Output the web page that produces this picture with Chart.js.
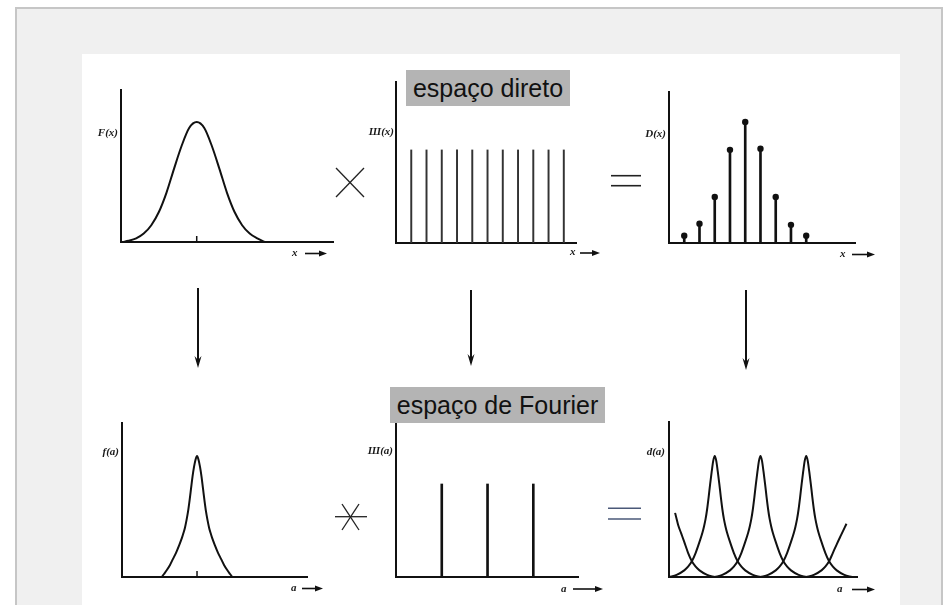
<!DOCTYPE html>
<html><head><meta charset="utf-8">
<script src="https://cdn.jsdelivr.net/npm/chart.js@4"></script>
<style>
html,body{margin:0;padding:0;background:#fff;width:944px;height:605px;overflow:hidden;position:relative;font-family:"Liberation Sans",Arial,sans-serif}
#panel{position:absolute;left:15px;top:7px;width:924px;height:620px;background:#f0f0f0;border-left:2px solid #c6c6c6;border-top:2px solid #c6c6c6;border-right:2px solid #c6c6c6}
#sheet{position:absolute;left:82px;top:54px;width:818px;height:560px;background:#fff}
canvas{position:absolute}
.lbl{position:absolute;font:bold italic 11px "Liberation Serif","DejaVu Serif",serif;color:#1a1a1a;white-space:nowrap;line-height:12px}
.tag{position:absolute;background:#b4b4b4;color:#111;font:25px "Liberation Sans",Arial,sans-serif;text-align:center;line-height:36px;height:36px;white-space:nowrap}
#ov{position:absolute;left:0;top:0}
</style></head>
<body>
<div id="panel"></div>
<div id="sheet"></div>
<script>
// ---------- data ----------
// F(x): gaussian-like curve in direct space
const fxX = [0.1, 0.5, 1, 1.5, 2, 2.5, 3, 3.5, 4, 4.5, 5, 5.5, 6, 6.5, 7, 7.5, 8, 8.5, 9, 9.5];
const fxY = [0, 0.01, 0.03, 0.07, 0.14, 0.25, 0.41, 0.61, 0.80, 0.95, 1.00, 0.95, 0.80, 0.61, 0.41, 0.25, 0.14, 0.07, 0.03, 0];
const fxTick = 5;
// Ш(x): lattice of equal spikes
const combX = [1, 2, 3, 4, 5, 6, 7, 8, 9, 10, 11];
const combH = [1, 1, 1, 1, 1, 1, 1, 1, 1, 1, 1];
// D(x): sampled function
const dxX = [1, 2, 3, 4, 5, 6, 7, 8, 9];
const dxH = [0.06, 0.16, 0.38, 0.77, 1.00, 0.78, 0.38, 0.15, 0.06];
// f(a): Fourier transform of F (sharp peak, flared tails)
const faX = [2.65, 2.8, 3.0, 3.2, 3.4, 3.6, 3.8, 4.0, 4.1, 4.2, 4.3, 4.4, 4.5, 4.6, 4.7, 4.8, 4.9, 5.0,
             5.1, 5.2, 5.3, 5.4, 5.5, 5.6, 5.7, 5.8, 5.9, 6.0, 6.2, 6.4, 6.6, 6.8, 7.0, 7.2, 7.35];
const faY = [0, 0.025, 0.06, 0.10, 0.15, 0.20, 0.26, 0.325, 0.365, 0.41, 0.47, 0.54, 0.63, 0.73, 0.83, 0.91, 0.97, 1.0,
             0.97, 0.91, 0.83, 0.73, 0.63, 0.54, 0.47, 0.41, 0.365, 0.325, 0.26, 0.20, 0.15, 0.10, 0.06, 0.025, 0];
const faTick = 5;
// Ш(a): reciprocal lattice
const rcombX = [3, 6, 9];
const rcombH = [1, 1, 1];
// d(a): one lobe profile (offset from lobe centre, height) and lobe centres
const daOffsets = [-3, -2.5, -2, -1.75, -1.5, -1.25, -1, -0.8, -0.7, -0.6, -0.5, -0.4, -0.3, -0.2, -0.1, 0,
                   0.1, 0.2, 0.3, 0.4, 0.5, 0.6, 0.7, 0.8, 1, 1.25, 1.5, 1.75, 2, 2.5, 3];
const daHeights = [0, 0.018, 0.055, 0.085, 0.13, 0.2, 0.29, 0.37, 0.42, 0.48, 0.56, 0.66, 0.77, 0.87, 0.96, 1,
                   0.96, 0.87, 0.77, 0.66, 0.56, 0.48, 0.42, 0.37, 0.29, 0.2, 0.13, 0.085, 0.055, 0.018, 0];
const daCenters = [3, 6, 9];
// partial lobes at the panel edges
const daLeftX = [0.4, 0.5, 0.6, 0.8, 1.0, 1.25, 1.5, 1.75, 2.0, 2.5, 3.0];
const daLeftY = [0.53, 0.48, 0.43, 0.36, 0.29, 0.20, 0.13, 0.085, 0.055, 0.018, 0];
const daRightX = [9, 9.5, 10, 10.25, 10.5, 10.75, 11.0, 11.3, 11.64];
const daRightY = [0, 0.018, 0.055, 0.085, 0.13, 0.2, 0.27, 0.35, 0.44];

// ---------- helpers ----------
const INK = '#111';
const pts = (xs, ys) => xs.map((x, i) => ({x, y: ys[i]}));
function curve(data, w) {
  return {type: 'line', data, showLine: true, pointRadius: 0, borderColor: INK, borderWidth: w || 2,
          fill: false, cubicInterpolationMode: 'monotone'};
}
function tickMark(x) {
  return {type: 'line', data: [{x, y: 0}, {x, y: 0.05}], showLine: true, pointRadius: 0,
          borderColor: INK, borderWidth: 1.5, fill: false};
}
function stems(xs, hs, w, col) {
  return {type: 'bar', data: pts(xs, hs), barThickness: w, backgroundColor: col || INK, borderWidth: 0, grouped: false};
}
function makeChart(area, xMax, yMax, datasets) {
  const P = 10;
  const c = document.createElement('canvas');
  const w = area.r - area.l + 2 * P, h = area.b - area.t + 2 * P;
  c.width = w; c.height = h;
  c.style.width = w + 'px'; c.style.height = h + 'px';
  c.style.left = (area.l - P) + 'px'; c.style.top = (area.t - P) + 'px';
  document.body.appendChild(c);
  const axis = (max) => ({type: 'linear', min: 0, max, offset: false,
    grid: {display: false, drawTicks: false}, ticks: {display: false},
    border: {display: true, width: 2, color: INK}});
  new Chart(c, {
    type: 'scatter',
    data: {datasets},
    options: {
      responsive: false, animation: false, devicePixelRatio: 1, events: [],
      layout: {padding: P, autoPadding: false},
      plugins: {legend: {display: false}, tooltip: {enabled: false}},
      scales: {x: axis(xMax), y: axis(yMax)}
    }
  });
}

// ---------- direct space ----------
makeChart({l: 121, t: 90, r: 333, b: 242}, 14, 1.267, [curve(pts(fxX, fxY)), tickMark(fxTick)]);
makeChart({l: 396, t: 82, r: 576, b: 243}, 11.8, 1.73, [stems(combX, combH, 1.3, '#333')]);
makeChart({l: 669, t: 92, r: 855, b: 243}, 12.2, 1.248, [
  stems(dxX, dxH, 2, INK),
  {type: 'scatter', data: pts(dxX, dxH), pointRadius: 3.2, backgroundColor: INK, borderWidth: 0}
]);

// ---------- Fourier space ----------
makeChart({l: 122, t: 423, r: 307, b: 577}, 12.33, 1.273, [curve(pts(faX, faY)), tickMark(faTick)]);
makeChart({l: 396, t: 420, r: 578, b: 577}, 11.93, 1.688, [stems(rcombX, rcombH, 2, INK)]);
const lobes = [curve(pts(daLeftX, daLeftY)), curve(pts(daRightX, daRightY))];
daCenters.forEach(cx => lobes.push(curve(daOffsets.map((o, i) => ({x: cx + o, y: daHeights[i]})))));
makeChart({l: 669, t: 422, r: 857, b: 577}, 12.33, 1.281, lobes);

// ---------- labels ----------
function label(txt, right, cy) {
  const d = document.createElement('div');
  d.className = 'lbl'; d.textContent = txt;
  d.style.right = (944 - right) + 'px'; d.style.top = (cy - 6) + 'px';
  document.body.appendChild(d);
}
function letter(txt, left, cy) {
  const d = document.createElement('div');
  d.className = 'lbl'; d.textContent = txt;
  d.style.left = left + 'px'; d.style.top = (cy - 7) + 'px';
  document.body.appendChild(d);
}
label('F(x)', 118, 132); label('Ш(x)', 394, 131); label('D(x)', 666, 133);
label('f(a)', 119, 451); label('Ш(a)', 393, 450); label('d(a)', 665, 451);
letter('x', 292, 253); letter('x', 570, 252); letter('x', 840, 254);
letter('a', 291, 588); letter('a', 561, 589); letter('a', 837, 589);

function tag(txt, l, t, w) {
  const d = document.createElement('div');
  d.className = 'tag'; d.textContent = txt;
  d.style.left = l + 'px'; d.style.top = t + 'px'; d.style.width = w + 'px';
  document.body.appendChild(d);
}

// ---------- arrows and operators (SVG overlay) ----------
const NS = 'http://www.w3.org/2000/svg';
const svg = document.createElementNS(NS, 'svg');
svg.setAttribute('id', 'ov'); svg.setAttribute('width', 944); svg.setAttribute('height', 605);
document.body.appendChild(svg);
function ln(x1, y1, x2, y2, w, col) {
  const e = document.createElementNS(NS, 'line');
  e.setAttribute('x1', x1); e.setAttribute('y1', y1); e.setAttribute('x2', x2); e.setAttribute('y2', y2);
  e.setAttribute('stroke', col || '#222'); e.setAttribute('stroke-width', w || 1.5);
  svg.appendChild(e);
}
function poly(p, col) {
  const e = document.createElementNS(NS, 'polygon');
  e.setAttribute('points', p); e.setAttribute('fill', col || '#111');
  svg.appendChild(e);
}
function hArrow(x1, x2, y) { ln(x1, y, x2 - 5, y, 1.6, '#111'); poly(`${x2},${y} ${x2 - 8},${y - 3} ${x2 - 8},${y + 3}`); }
function vArrow(x, y1, y2) { ln(x, y1, x, y2 - 6, 2, '#111'); poly(`${x},${y2} ${x - 3.5},${y2 - 12} ${x},${y2 - 8} ${x + 3.5},${y2 - 12}`); }
hArrow(305, 327, 253.5); hArrow(580, 600, 253); hArrow(852, 875, 254.5);
hArrow(302, 323, 588.5); hArrow(573, 603, 589); hArrow(852, 875, 589.5);
vArrow(198, 288, 368); vArrow(471, 290, 366); vArrow(746, 290, 370);
// ×
ln(336, 168, 364, 197, 1.3); ln(336, 197, 364, 168, 1.3);
// =
ln(611, 175.7, 641, 175.7, 1.6); ln(611, 185.7, 641, 185.7, 1.6);
// convolution star
ln(335, 516.7, 367, 516.7, 1.3); ln(342, 504, 359, 530, 1.3); ln(359, 504, 342, 530, 1.3);
// = (bluish)
ln(608, 508.3, 641, 508.3, 1.6, '#4a5878'); ln(608, 519, 641, 519, 1.6, '#4a5878');

tag('espaço direto', 406, 70, 164);
tag('espaço de Fourier', 390, 387, 215);
</script>
</body></html>
